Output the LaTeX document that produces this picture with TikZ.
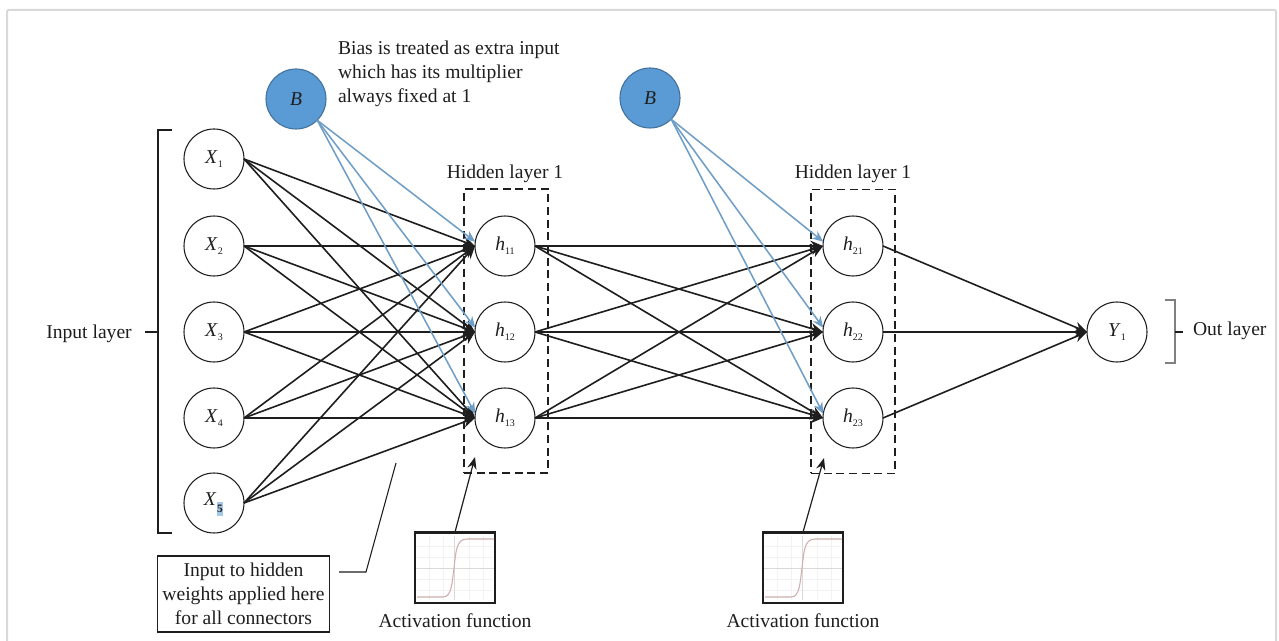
\documentclass[tikz,border=0pt]{standalone}
\usepackage{fontspec}
\setmainfont{Liberation Serif}
\usetikzlibrary{arrows.meta}
\definecolor{biasfill}{HTML}{5B9BD5}
\definecolor{biasline}{HTML}{41719C}
\definecolor{biasedge}{HTML}{6F9EC6}
\definecolor{inkc}{HTML}{1E1E1E}
\newcommand{\nlab}[2]{\textit{#1}\raisebox{-0.45ex}{\fontsize{7.5}{8}\selectfont #2}}
\newcommand{\sigplot}[2]{%
  \begin{scope}[shift={(#1,#2)}]
    \foreach \gx in {14,28,54,68} {\draw[gray!10,line width=.4pt] (\gx,4) -- (\gx,68);}
    \foreach \gy in {14,25,47,58} {\draw[gray!10,line width=.4pt] (2,\gy) -- (78,\gy);}
    \draw[gray!30,line width=.5pt] (1,36) -- (79,36);
    \draw[gray!30,line width=.5pt] (39,4) -- (39,68);
    \draw[red!25!gray!50,line width=.8pt] (2,65) -- (28,65) .. controls (37,65) and (37,50) .. (39,36) .. controls (41,20) and (41,7) .. (52,7) -- (79,7);
  \end{scope}}
\tikzset{
  x=0.75pt,y=-0.75pt,
  txt/.style={font=\fontsize{14.7}{18}\selectfont,inkc,inner sep=0pt,outer sep=0pt},
  neuron/.style={circle,draw=inkc,line width=.8pt,fill=white,minimum size=45pt,inner sep=0pt,outer sep=0pt,font=\fontsize{14.7}{18}\selectfont,text=inkc},
  bias/.style={neuron,draw=biasline,fill=biasfill},
  edge/.style={draw=inkc,line width=1.2pt,-{Stealth[length=9.5pt,width=8pt]}},
  biasarrow/.style={draw=biasedge,line width=1.15pt,-{Stealth[length=8.5pt,width=7pt]}},
  dashbox/.style={draw=inkc,line width=.9pt,dash pattern=on 6pt off 3.5pt,inner sep=0pt,outer sep=0pt},
  plain/.style={draw=inkc,line width=.8pt},
  pointer/.style={draw=inkc,line width=.9pt,-{Stealth[length=9pt,width=7pt]}},
  actbox/.style={draw=inkc,line width=1pt,minimum width=60pt,minimum height=53pt,inner sep=0pt,outer sep=0pt},
}
\begin{document}
\begin{tikzpicture}
\useasboundingbox (0,0) rectangle (1279,641);
\fill[white] (0,0) rectangle (1279,641);
\draw[gray!30,line width=1.5pt,rounded corners=1pt] (7,641) -- (7,10) -- (1276,10) -- (1276,641);
% dashed layer boxes
\node[dashbox,minimum width=63pt,minimum height=213pt] (box1) at (506,331) {};
\node[dashbox,minimum width=63pt,minimum height=213pt] (box2) at (853,331.5) {};
% neurons
\node[neuron] (x1) at (214,159) {\nlab{X}{1}};
\node[neuron] (x2) at (214,246) {\nlab{X}{2}};
\node[neuron] (x3) at (214,332) {\nlab{X}{3}};
\node[neuron] (x4) at (214,418) {\nlab{X}{4}};
\node[neuron] (x5) at (214,503) {};
\fill[biasfill!55] (216.5,502) rectangle (223,516);
\node[txt,anchor=base east] (x5m) at (216.5,506) {\textit{X}};
\node[txt,anchor=base west,font=\fontsize{8.5}{8}\selectfont\bfseries] (x5s) at (217,513) {5};
\node[neuron] (h11) at (505,246) {\nlab{h}{11}};
\node[neuron] (h12) at (505,332) {\nlab{h}{12}};
\node[neuron] (h13) at (505,418) {\nlab{h}{13}};
\node[neuron] (h21) at (853,246) {\nlab{h}{21}};
\node[neuron] (h22) at (853,332) {\nlab{h}{22}};
\node[neuron] (h23) at (853,418) {\nlab{h}{23}};
\node[neuron] (y1) at (1117,332) {\nlab{Y}{1}};
\node[bias] (b1) at (296,99) {\textit{B}};
\node[bias] (b2) at (650,98) {\textit{B}};
% connections
\foreach \a in {x1,x2,x3,x4,x5} \foreach \b in {h11,h12,h13} {\draw[edge] (\a.east) -- (\b.west);}
\foreach \a in {h11,h12,h13} \foreach \b in {h21,h22,h23} {\draw[edge] (\a.east) -- (\b.west);}
\foreach \a in {h21,h22,h23} {\draw[edge] (\a.east) -- (y1.west);}
\foreach \b in {h11,h12,h13} {\draw[biasarrow] (b1.-45) -- (\b.172);}
\foreach \b in {h21,h22,h23} {\draw[biasarrow] (b2.-45) -- (\b.172);}
% brackets
\coordinate (lbt) at (172,130); \coordinate (lbtc) at (158,130);
\coordinate (lbb) at (172,533); \coordinate (lbbc) at (158,533);
\coordinate (lbm) at (158,332); \coordinate (lbn) at (145,332);
\draw[plain] (lbt) -- (lbtc) -- (lbbc) -- (lbb);
\draw[plain] (lbm) -- (lbn);
\coordinate (rbt) at (1165,300); \coordinate (rbtc) at (1175,300);
\coordinate (rbb) at (1165,363); \coordinate (rbbc) at (1175,363);
\coordinate (rbm) at (1175,332); \coordinate (rbn) at (1183,332);
\draw[plain,draw=gray] (rbt) -- (rbtc) -- (rbbc) -- (rbb);
\draw[plain] (rbm) -- (rbn);
% text
\node[txt] (inlab) at (89,334) {Input layer};
\node[txt,anchor=west] (outlab) at (1193,331) {Out layer};
\node[txt] (hl1) at (505,174) {Hidden layer 1};
\node[txt] (hl2) at (853,174) {Hidden layer 1};
\node[txt,anchor=west,align=left,font=\fontsize{14.7}{18}\selectfont] (biastxt) at (338,74) {Bias is treated as extra input\\which has its multiplier\\always fixed at 1};
% weights note
\node[draw=inkc,line width=.9pt,minimum width=128.5pt,minimum height=57pt,inner sep=0pt,outer sep=0pt,align=center,font=\fontsize{14.7}{18}\selectfont,text=inkc] (note) at (243.5,594) {Input to hidden\\weights applied here\\for all connectors};
\coordinate (lead0) at (339,572); \coordinate (lead1) at (366,572); \coordinate (lead2) at (396,463);
\draw[plain] (lead0) -- (lead1) -- (lead2);
% activation functions
\node[actbox] (act1) at (455,567.5) {};
\sigplot{415}{532}
\draw[inkc,line width=2.2pt] (act1.north west) -- (act1.north east);
\node[actbox] (act2) at (803,567.5) {};
\sigplot{763}{532}
\draw[inkc,line width=2.2pt] (act2.north west) -- (act2.north east);
\coordinate (t1) at (475,457); \coordinate (t2) at (824,458);
\draw[pointer] (act1.north) -- (t1);
\draw[pointer] (act2.north) -- (t2);
\node[txt] (al1) at (455,621) {Activation function};
\node[txt] (al2) at (803,621) {Activation function};
\end{tikzpicture}
\end{document}
